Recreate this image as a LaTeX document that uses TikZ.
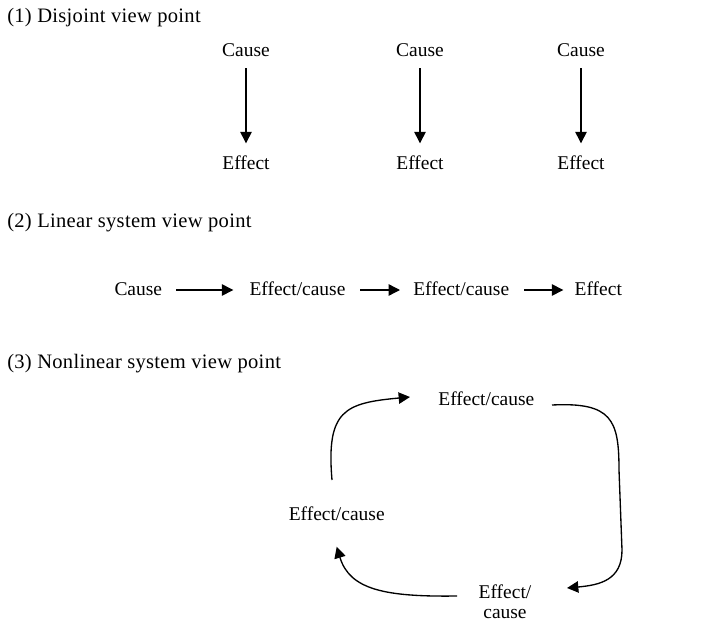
\documentclass[tikz,border=0pt]{standalone}
\usepackage{fontspec}
\setmainfont{Liberation Serif}
\usetikzlibrary{arrows.meta}
\begin{document}
\begin{tikzpicture}[x=0.75pt,y=-0.75pt,
  lbl/.style={font=\fontsize{14.6pt}{15pt}\selectfont, inner sep=0pt, anchor=base},
  heading/.style={font=\fontsize{15.4pt}{16pt}\selectfont\addfontfeature{LetterSpace=1.5},
    inner sep=0pt, anchor=base west},
  arr/.style={line width=1pt, -{Triangle[length=8.5pt,width=8.5pt]}}]
\useasboundingbox (0,0) rectangle (706,624);

% (1) separate cause/effect pairs
\node[heading] (h1) at (7,23) {(1) Disjoint view point};
\foreach \i/\x in {1/246,2/420,3/581}{
  \node[lbl] (c\i) at (\x,57) {Cause};
  \node[lbl] (e\i) at (\x,170) {Effect};
  \draw[arr] ([shift={(0,11.3)}]c\i.base) -- ([shift={(0,-26.7)}]e\i.base);
}

% (2) a chain of causes
\node[heading] (h2) at (7,227) {(2) Linear system view point};
\node[lbl] (lc)  at (138.3,295) {Cause};
\node[lbl] (le1) at (297.5,295) {Effect/cause};
\node[lbl] (le2) at (461.2,295) {Effect/cause};
\node[lbl] (le)  at (598.3,295) {Effect};
\draw[arr] ([shift={(37.7,-5)}]lc.base)  -- ([shift={(-64.2,-5)}]le1.base);
\draw[arr] ([shift={(62.5,-5)}]le1.base) -- ([shift={(-61.2,-5)}]le2.base);
\draw[arr] ([shift={(62.8,-5)}]le2.base) -- ([shift={(-35,-5)}]le.base);

% (3) a feedback loop
\node[heading] (h3) at (7,368) {(3) Nonlinear system view point};
\node[lbl] (nt) at (486.3,405) {Effect/cause};
\node[lbl] (nl) at (336.7,520.7) {Effect/cause};
% base anchor of a two-line node sits on its last line
\node[lbl, align=center] (nb) at (505,618) {Effect/\\cause};

\draw[arr] ([shift={(-4.7,-40.7)}]nl.base)
  .. controls +(-6,-70) and +(-65,6) .. ([shift={(-76.3,-8)}]nt.base);
\draw[arr] ([shift={(65.7,0)}]nt.base)
  .. controls +(60,-3) and +(0,-50) .. (619,470)
  -- (622,550)
  .. controls +(0,30) and +(33,-3) .. ([shift={(62,-30)}]nb.base);
\draw[arr] ([shift={(-48,-22)}]nb.base)
  .. controls +(-72,1) and +(13,43) .. ([shift={(0,26)}]nl.base);
\end{tikzpicture}
\end{document}
